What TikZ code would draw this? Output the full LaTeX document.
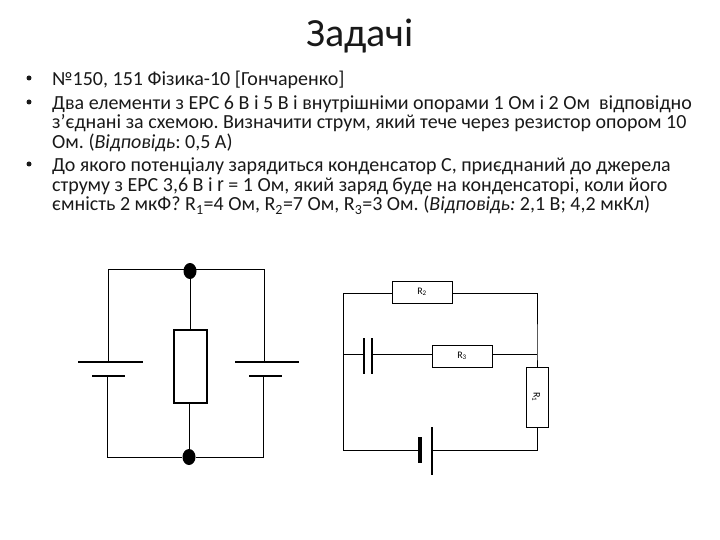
\documentclass[tikz,border=0pt]{standalone}
\usepackage{fontspec}
\setmainfont{Carlito}
\newfontfamily\arialfont{Liberation Sans}
\usetikzlibrary{shapes.geometric}
\tikzset{
	textline/.style={anchor=base west,inner sep=0pt,font=\fontsize{20}{22}\selectfont\frenchspacing,text=black!90},
	bulletmark/.style={circle,fill=black!90,inner sep=0pt,minimum size=5pt},
	wire/.style={line width=1pt},
	bigbox/.style={draw,line width=2pt,fill=white,inner sep=0pt,minimum width=33pt,minimum height=73pt},
	rbox/.style={draw,line width=0.9pt,fill=white,inner sep=0pt,font=\fontsize{10}{11}\selectfont},
	plate/.style={fill=black,inner sep=0pt,minimum width=#1,minimum height=2pt},
	vplate/.style={fill=black,inner sep=0pt,minimum height=#1,minimum width=2pt},
	junction/.style={ellipse,fill=black,inner sep=0pt,minimum width=13pt,minimum height=16pt}
}
\begin{document}
\begin{tikzpicture}[x=1pt,y=-1pt]
	\useasboundingbox (0,0) rectangle (720,540);
	% title and text
	\node[inner sep=0pt,font=\fontsize{40}{44}\selectfont,text=black!90] (title) at (360,36) {Задачі};
	\node[bulletmark] (b1) at (29,78) {};
	\node[bulletmark] (b2) at (29,102) {};
	\node[bulletmark] (b3) at (29,164) {};
	\node[textline] (l1) at (52,86) {№150, 151 Фізика-10 [Гончаренко]};
	\node[textline] (l2) at (52,110) {Два елементи з ЕРС 6 В і 5 В і внутрішніми опорами 1 Ом і 2 Ом\ \ відповідно};
	\node[textline] (l3) at (52,129) {з’єднані за схемою. Визначити струм, який тече через резистор опором 10};
	\node[textline] (l4) at (52,149) {Ом. (\textit{Відповідь}: 0,5 А)};
	\node[textline] (l5) at (52,172) {До якого потенціалу зарядиться конденсатор С, приєднаний до джерела};
	\node[textline] (l6) at (52,192) {струму з ЕРС 3,6 В і {\arialfont r} = 1 Ом, який заряд буде на конденсаторі, коли його};
	\node[textline] (l7) at (52,211) {ємність 2 мкФ? R\textsubscript{1}=4 Ом, R\textsubscript{2}=7 Ом, R\textsubscript{3}=3 Ом. (\textit{Відповідь:} 2,1 В; 4,2 мкКл)};
	% left circuit
	\coordinate (tl) at (108,269);
	\coordinate (tr) at (264,269);
	\coordinate (bl) at (107,457);
	\coordinate (br) at (263,457);
	\node[junction] (top) at (190,271) {};
	\node[junction] (bot) at (189,457) {};
	\node[bigbox] (R) at (190,366) {};
	\node[plate=65pt] (E1a) at (110.5,362) {};
	\node[plate=33pt] (E1b) at (108.5,376) {};
	\node[plate=64pt] (E2a) at (267,362) {};
	\node[plate=33pt] (E2b) at (265.5,376) {};
	\draw[wire] (top |- tl) -- (tl) -- (E1a.north -| tl);
	\draw[wire] (top |- tr) -- (tr) -- (E2a.north -| tr);
	\draw[wire] (bot) -- (bl) -- (E1b.south -| bl);
	\draw[wire] (bot) -- (br) -- (E2b.south -| br);
	\draw[wire] (top) -- (top |- R.north);
	\draw[wire] (bot) -- (bot |- R.south);
	% right circuit
	\coordinate (a) at (343,293);
	\coordinate (b) at (537,293);
	\coordinate (c) at (537,354);
	\coordinate (d) at (537,450);
	\coordinate (e) at (343,450);
	\coordinate (f) at (343,354);
	\node[rbox,minimum width=60pt,minimum height=22pt] (R2) at (422,292) {R\textsubscript{2}};
	\node[rbox,minimum width=60pt,minimum height=22pt] (R3) at (462,356) {R\textsubscript{3}};
	\node[rbox,minimum width=22pt,minimum height=60pt] (R1) at (537,397) {};
	\node[rotate=-90,inner sep=0pt,font=\fontsize{10}{11}\selectfont] (R1t) at (536,397) {R\textsubscript{1}};
	\node[vplate=36pt] (C1) at (364,356) {};
	\node[vplate=36pt] (C2) at (372,356) {};
	\node[vplate=26pt,minimum width=3.4pt] (B1) at (420,450) {};
	\node[vplate=48pt] (B2) at (432,451) {};
	\draw[wire] (e) -- (a) -- (a -| R2.west);
	\draw[wire] (b -| R2.east) -- (b) -- (c) -- (R1.north);
	\draw[wire] (f) -- (f -| C1.west);
	\draw[wire] (f -| C2.east) -- (f -| R3.west);
	\draw[wire] (f -| R3.east) -- (c);
	\draw[wire] (R1.south) -- (d) -- (e -| B2.east);
	\draw[wire] (e) -- (e -| B1.west);
\end{tikzpicture}
\end{document}
